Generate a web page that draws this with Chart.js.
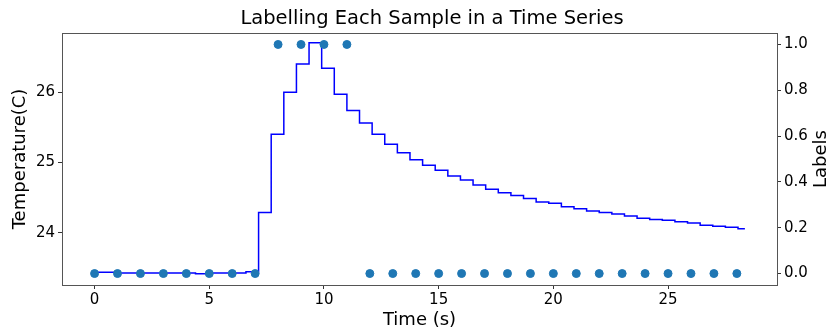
<!DOCTYPE html>
<html>
<head>
<meta charset="utf-8">
<script src="https://cdn.jsdelivr.net/npm/chart.js@4.4.0/dist/chart.umd.min.js"></script>
<style>
  html, body { margin: 0; padding: 0; background: #fff; }
  #wrap { width: 831px; height: 333px; }
</style>
</head>
<body>
<div id="wrap"><canvas id="labelChart" width="831" height="333"></canvas></div>
<script>
// temperature samples (stepped line, left axis)
const tempTimes = [
    0, 0.55, 1.1, 1.65, 2.2, 2.75, 3.3, 3.85, 4.4, 4.95,
    5.5, 6.05, 6.6, 7.15, 7.7, 8.25, 8.8, 9.35, 9.9, 10.45,
    11.0, 11.55, 12.1, 12.65, 13.2, 13.75, 14.3, 14.85, 15.4, 15.95,
    16.5, 17.05, 17.6, 18.15, 18.7, 19.25, 19.8, 20.35, 20.9, 21.45,
    22.0, 22.55, 23.1, 23.65, 24.2, 24.75, 25.3, 25.85, 26.4, 26.95,
    27.5, 28.05, 28.35
];
const tempValues = [
    23.44, 23.44, 23.43, 23.43, 23.43, 23.43, 23.43, 23.43, 23.42, 23.43,
    23.43, 23.43, 23.45, 24.29, 25.40, 26.00, 26.40, 26.70, 26.34, 25.97,
    25.74, 25.56, 25.40, 25.26, 25.14, 25.04, 24.96, 24.89, 24.81, 24.75,
    24.68, 24.62, 24.57, 24.53, 24.49, 24.44, 24.42, 24.37, 24.345, 24.31,
    24.29, 24.27, 24.24, 24.21, 24.19, 24.18, 24.16, 24.14, 24.11, 24.095,
    24.08, 24.06, 24.06
];

// one label per second (scatter, right axis)
const labelTimes = [
    0, 1, 2, 3, 4, 5, 6, 7, 8, 9, 10, 11, 12, 13, 14,
    15, 16, 17, 18, 19, 20, 21, 22, 23, 24, 25, 26, 27, 28
];
const labelValues = [
    0, 0, 0, 0, 0, 0, 0, 0, 1, 1, 1, 1, 0, 0, 0,
    0, 0, 0, 0, 0, 0, 0, 0, 0, 0, 0, 0, 0, 0
];

const xTicks = [0, 5, 10, 15, 20, 25];
const tempTicks = [24, 25, 26];
const labelTicks = [0, 0.2, 0.4, 0.6, 0.8, 1.0];

const FONT = 'DejaVu Sans';
Chart.defaults.color = '#000';
Chart.defaults.font.family = FONT;

// axes box, chart title and right axis title (reads bottom to top, like matplotlib)
const framePlugin = {
    id: 'frame',
    afterDraw(chart) {
        const { ctx, chartArea: a } = chart;
        ctx.save();
        ctx.strokeStyle = '#555';
        ctx.lineWidth = 1;
        ctx.strokeRect(Math.round(a.left) + 0.5, Math.round(a.top) + 0.5,
            Math.round(a.right - a.left), Math.round(a.bottom - a.top));

        ctx.fillStyle = '#000';
        ctx.textAlign = 'center';
        ctx.textBaseline = 'middle';
        ctx.font = '19.5px "' + FONT + '"';
        ctx.fillText('Labelling Each Sample in a Time Series', 432, 19);

        ctx.translate(821, (a.top + a.bottom) / 2);
        ctx.rotate(-Math.PI / 2);
        ctx.font = '18px "' + FONT + '"';
        ctx.fillText('Labels', 0, 0);
        ctx.restore();
    }
};

function fixedTicks(values) {
    return scale => { scale.ticks = values.map(v => ({ value: v })); };
}

const tickGrid = {
    drawOnChartArea: false,
    drawTicks: true,
    tickLength: 4,
    tickColor: '#333'
};

function initChart() {
    const ctx = document.getElementById('labelChart').getContext('2d');

    new Chart(ctx, {
        type: 'line',
        data: {
            datasets: [{
                type: 'scatter',
                label: 'Labels',
                data: labelTimes.map((t, i) => ({ x: t, y: labelValues[i] })),
                yAxisID: 'y2',
                backgroundColor: '#1f77b4',
                borderColor: '#1f77b4',
                pointRadius: 4,
                pointHoverRadius: 4,
                order: 0
            }, {
                type: 'line',
                label: 'Temperature',
                data: tempTimes.map((t, i) => ({ x: t, y: tempValues[i] })),
                yAxisID: 'y',
                borderColor: '#0000ff',
                borderWidth: 1.5,
                stepped: 'before',
                pointRadius: 0,
                fill: false,
                order: 1
            }]
        },
        options: {
            responsive: false,
            animation: false,
            layout: { padding: { top: 33 } },
            plugins: {
                legend: { display: false },
                tooltip: { enabled: false },
                title: { display: false }
            },
            scales: {
                x: {
                    type: 'linear',
                    min: -1.42,
                    max: 29.75,
                    afterBuildTicks: fixedTicks(xTicks),
                    afterFit: scale => { scale.height = 48; },
                    grid: tickGrid,
                    border: { display: false },
                    ticks: { font: { size: 15 }, padding: 2, maxRotation: 0 },
                    title: {
                        display: true,
                        text: 'Time (s)',
                        font: { size: 18 },
                        padding: { top: 0, bottom: 2 }
                    }
                },
                y: {
                    position: 'left',
                    min: 23.26,
                    max: 26.84,
                    afterBuildTicks: fixedTicks(tempTicks),
                    afterFit: scale => { scale.width = 62; },
                    grid: tickGrid,
                    border: { display: false },
                    ticks: { font: { size: 15 }, padding: 3 },
                    title: {
                        display: true,
                        text: 'Temperature(C)',
                        font: { size: 18 },
                        padding: { top: 10, bottom: 0 }
                    }
                },
                y2: {
                    position: 'right',
                    min: -0.05,
                    max: 1.05,
                    afterBuildTicks: fixedTicks(labelTicks),
                    afterFit: scale => { scale.width = 54; },
                    grid: tickGrid,
                    border: { display: false },
                    ticks: {
                        font: { size: 15 },
                        padding: 3,
                        callback: v => Number(v).toFixed(1)
                    }
                }
            }
        },
        plugins: [framePlugin]
    });
}

document.addEventListener('DOMContentLoaded', initChart);
</script>
</body>
</html>
